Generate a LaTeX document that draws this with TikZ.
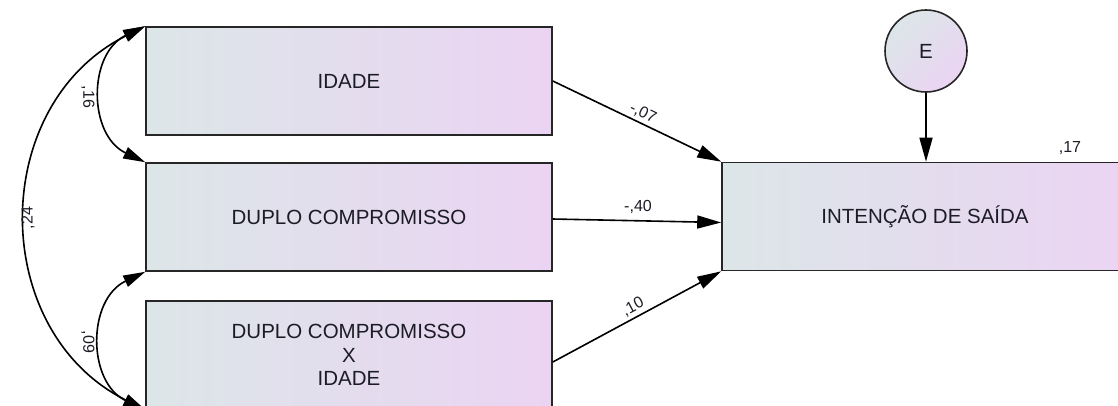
\documentclass[tikz,border=0pt]{standalone}
\usepackage{fontspec}
\setmainfont{Liberation Sans}
\usetikzlibrary{arrows.meta,calc}
\definecolor{fillL}{HTML}{DCE6E8}
\definecolor{fillR}{HTML}{EBD4F3}
\definecolor{rim}{HTML}{262626}
\definecolor{ink}{HTML}{1C1C26}
\begin{document}
\begin{tikzpicture}[x=1pt,y=-1pt,
  var/.style={draw=rim, line width=1.6pt, left color=fillL, right color=fillR,
    minimum width=406pt, minimum height=108pt, inner sep=0pt, align=center,
    text=ink, font=\fontsize{20.5}{23.5}\selectfont},
  errvar/.style={circle, draw=rim, line width=1.6pt, left color=fillL, right color=fillR,
    shading angle=45, minimum size=82pt, inner sep=0pt, text=ink,
    font=\fontsize{20.5}{23.5}\selectfont},
  reg/.style={draw=black, line width=1.6pt, -{Triangle[length=24pt,width=13pt]}},
  cov/.style={draw=black, line width=1.6pt,
    {Triangle[length=22pt,width=12pt]}-{Triangle[length=22pt,width=12pt]}},
  coef/.style={font=\fontsize{16}{18}\selectfont, text=ink, inner sep=0pt}]
% canvas
\useasboundingbox (0,0) rectangle (1118,405);
\clip (0,0) rectangle (1118,405);
\fill[white] (0,0) rectangle (1118,405);

% observed variables
\node[var] (idade) at (349,81)  {IDADE};
\node[var] (duplo) at (349,217) {DUPLO COMPROMISSO};
\node[var] (inter) at (349,355) {DUPLO COMPROMISSO\\X\\IDADE};
\node[var] (saida) at (925,216.5) {INTENÇÃO DE SAÍDA};

% error term
\node[errvar] (E) at (926,51) {E};
\draw[reg] (E.south) -- (E.south |- saida.north);

% regression paths
\draw[reg] (idade.east) -- (saida.north west);
\draw[reg] ([yshift=-2pt]duplo.east) -- ([yshift=-6pt]saida.west);
\draw[reg] ([yshift=-7pt]inter.east) -- (saida.south west);

% covariances
\draw[cov] (idade.north west) .. controls +(-57.4,27.2) and +(-57.4,-27.2) .. (duplo.north west);
\draw[cov] (idade.north west) .. controls +(-157.3,78.8) and +(-157.3,-78.8) .. (inter.south west);
\draw[cov] (duplo.south west) .. controls +(-58.2,27.6) and +(-58.2,-27.6) .. (inter.south west);

% estimates
\node[coef, rotate=-90] (c16) at (88,97)  {,16};
\node[coef, rotate=90]  (c24) at (28,218) {,24};
\node[coef, rotate=-90] (c09) at (88,342) {,09};
\node[coef, rotate=-25.7] (c07) at (643,113) {-,07};
\node[coef] (c40) at (638,207) {-,40};
\node[coef, rotate=28] (c10) at (633,307) {,10};
\node[coef] (r2) at (1070,148) {,17};
\end{tikzpicture}
\end{document}
